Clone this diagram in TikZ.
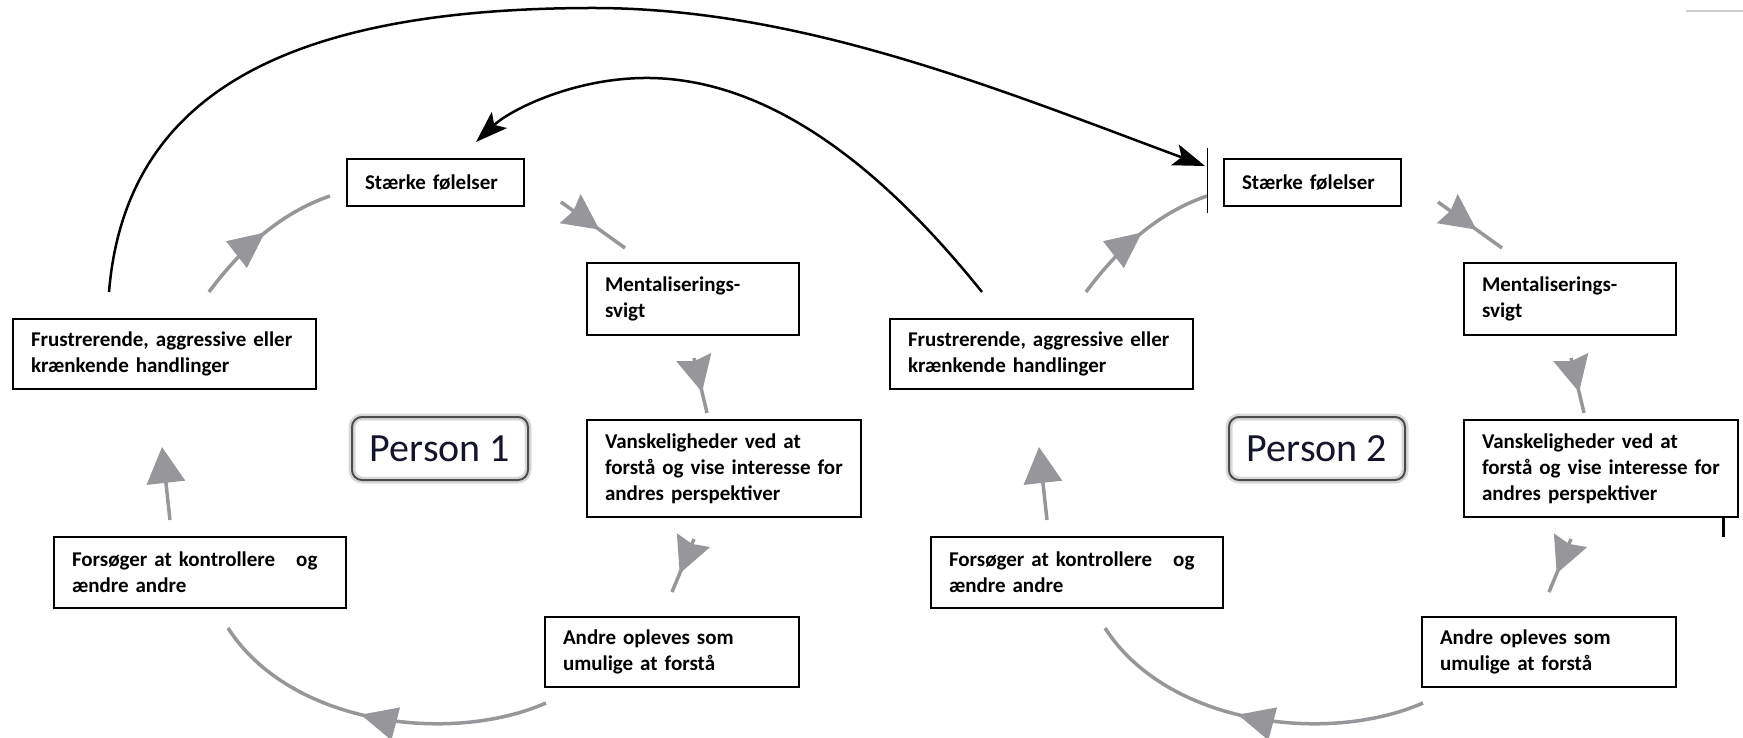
\documentclass[tikz,border=0pt]{standalone}
\usepackage{fontspec}
\setmainfont{Carlito}
\usetikzlibrary{arrows.meta,shapes.geometric,calc}
\definecolor{gcol}{RGB}{150,150,155}
\definecolor{pcol}{RGB}{20,20,45}
\newcommand{\gheadline}[3]{%
  \coordinate (tipX) at ($(#1)!#3!(#2)$);
  \coordinate (bcX) at ($(tipX)!36pt!(#1)$);
  \fill[gcol] (tipX) -- ($(bcX)!18pt!90:(tipX)$) -- ($(bcX)!4pt!(tipX)$) -- ($(bcX)!18pt!-90:(tipX)$) -- cycle;}
\begin{document}
\begin{tikzpicture}[x=1pt,y=-1pt,
  txtbox/.style={draw=black, line width=2.5pt, inner xsep=18pt, inner ysep=0pt, align=left,
    font=\bfseries\fontsize{21}{26}\selectfont},
  pbox/.style={draw=black!70, line width=2pt, rounded corners=10pt, inner sep=0pt,
    preaction={draw=black!15, line width=7pt},
    font=\fontsize{40}{40}\selectfont, text=pcol},
  gline/.style={draw=gcol, line width=3.5pt},
  gtri/.style={isosceles triangle, isosceles triangle stretches, fill=gcol, draw=none,
    minimum height=36pt, minimum width=34pt, inner sep=0pt, sloped, allow upside down, anchor=apex, pos=#1},
  barrow/.style={draw=black, line width=2.5pt, -{Stealth[length=32pt,width=22pt,inset=7pt]}}
]
\useasboundingbox (0,0) rectangle (1743,738);

\foreach \p/\dx in {1/0,2/877}{
  \node[txtbox, text width=141pt, minimum height=47pt] (S\p) at ({435.5+\dx},182.5) {Stærke følelser};
  \node[txtbox, text width=176pt, minimum height=72pt] (M\p) at ({693+\dx},299) {Mentaliserings-\\svigt};
  \node[txtbox, text width=267pt, minimum height=70pt] (F\p) at ({164.5+\dx},354) {Frustrerende, aggressive eller\\krænkende handlinger};
  \node[txtbox, text width=238pt, minimum height=97pt] (V\p) at ({724+\dx},468.5) {Vanskeligheder ved at\\forstå og vise interesse for\\andres perspektiver};
  \node[txtbox, text width=256pt, minimum height=71pt] (K\p) at ({200+\dx},572.5) {Forsøger at kontrollere\ \ \ og\\ændre andre};
  \node[txtbox, text width=218pt, minimum height=70pt] (A\p) at ({672+\dx},652) {Andre opleves som\\umulige at forstå};
  \node[pbox, minimum width=176pt, minimum height=63pt] (P\p) at ({440+\dx},448.5) {Person \p};

  \coordinate (fsA\p) at ({209+\dx},292);
  \coordinate (fsB\p) at ({330+\dx},196);
  \coordinate (smA\p) at ({561+\dx},202);
  \coordinate (smB\p) at ({625+\dx},248);
  \coordinate (mvA\p) at ({694+\dx},358);
  \coordinate (mvB\p) at ({707+\dx},413);
  \coordinate (vaA\p) at ({694+\dx},539);
  \coordinate (vaB\p) at ({672+\dx},592);
  \coordinate (akA\p) at ({546+\dx},703);
  \coordinate (akB\p) at ({228+\dx},628);
  \coordinate (kfA\p) at ({170+\dx},520);
  \coordinate (kfB\p) at ({162+\dx},447);

  \draw[gline] (fsA\p) .. controls ({240+\dx},250) and ({280+\dx},213) .. (fsB\p) node[gtri=0.55] (h1\p) {};
  \draw[gline] (smA\p) -- (smB\p);
  \gheadline{smA\p}{smB\p}{0.6}
  \draw[gline] (mvA\p) -- (mvB\p);
  \gheadline{mvA\p}{mvB\p}{0.62}
  \draw[gline] (vaA\p) -- (vaB\p);
  \gheadline{vaA\p}{vaB\p}{0.65}
  \draw[gline] (akA\p) .. controls ({450+\dx},745) and ({290+\dx},725) .. (akB\p) node[gtri=0.55] (h5\p) {};
  \draw[gline, -{Triangle[length=36pt,width=38pt]}] (kfA\p) -- (kfB\p);
}

\coordinate (b1s) at (109,292);
\coordinate (b1m) at (589,8);
\coordinate (b1e) at (1205,166);
\draw[barrow] (b1s) .. controls (125,98) and (280,9) .. (b1m) .. controls (800,7) and (1000,90) .. (b1e);

\coordinate (b2s) at (982,292);
\coordinate (b2m) at (650,78);
\coordinate (b2e) at (476,142);
\draw[barrow] (b2s) .. controls (900,190) and (785,80) .. (b2m) .. controls (575,77) and (510,110) .. (b2e);

\coordinate (vt) at (1207,148);
\coordinate (vb) at (1207,213);
\draw[line width=1pt] (vt) -- (vb);
\coordinate (tt) at (1723,517);
\coordinate (tb) at (1723,537);
\draw[line width=3pt] (tt) -- (tb);
\coordinate (gl) at (1686,11);
\coordinate (gr) at (1743,11);
\draw[black!20, line width=1.5pt] (gl) -- (gr);
\end{tikzpicture}
\end{document}
